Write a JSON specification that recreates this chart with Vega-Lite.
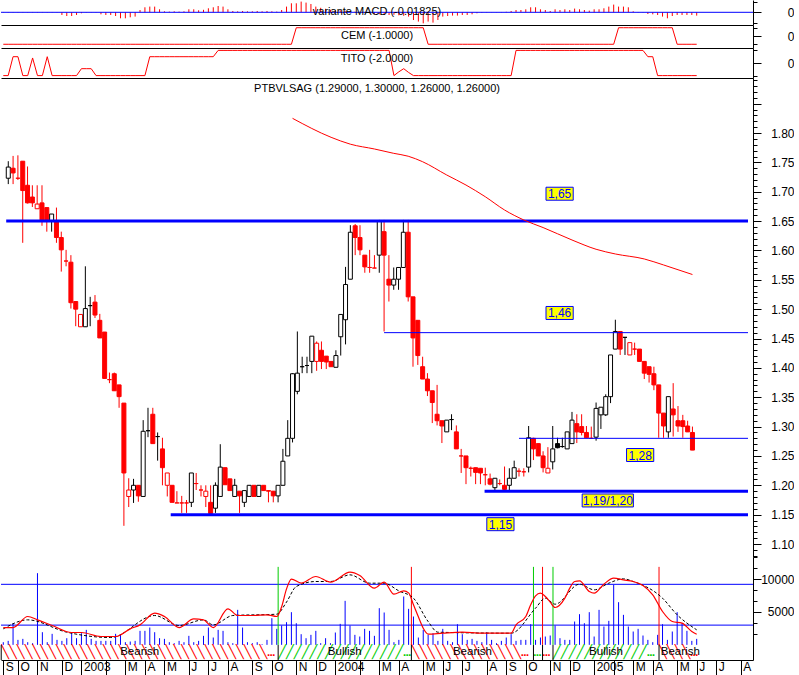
{
"$schema": "https://vega.github.io/schema/vega-lite/v6.json",
"padding": 0,
"background": "#FFFFFF",
"spacing": 0,
"bounds": "flush",
"config": {
 "view": {"stroke": null},
 "font": "Liberation Sans",
 "axis": {"labelFont": "Liberation Sans", "labelFontSize": 12, "labelColor": "#000000", "domainColor": "#000000", "tickColor": "#000000", "domainWidth": 1, "tickWidth": 1, "grid": false},
 "title": {"font": "Liberation Sans", "fontSize": 11, "fontWeight": "normal", "color": "#000000", "anchor": "middle", "baseline": "middle"}
},
"datasets": {
 "wk": [
{"d":"2002-09-13","o":1.723,"h":1.752,"l":1.713,"c":1.742,"m":0.0017,"cem":-1,"tito":-2,"v":405},
{"d":"2002-09-20","o":1.740,"h":1.761,"l":1.713,"c":1.732,"m":0.0017,"cem":-1,"tito":-2,"v":608},
{"d":"2002-09-27","o":1.723,"h":1.762,"l":1.720,"c":1.723,"m":-0.0017,"cem":-1,"tito":1,"v":3293},
{"d":"2002-10-04","o":1.752,"h":1.752,"l":1.613,"c":1.702,"m":0.0017,"cem":-1,"tito":1,"v":760},
{"d":"2002-10-11","o":1.711,"h":1.743,"l":1.680,"c":1.681,"m":0.0017,"cem":-1,"tito":-2,"v":912},
{"d":"2002-10-18","o":1.691,"h":1.711,"l":1.674,"c":1.681,"m":-0.0017,"cem":-1,"tito":-2,"v":405},
{"d":"2002-10-25","o":1.671,"h":1.711,"l":1.671,"c":1.679,"m":0.0017,"cem":-1,"tito":0.8,"v":253},
{"d":"2002-11-01","o":1.681,"h":1.711,"l":1.642,"c":1.652,"m":0.0017,"cem":-1,"tito":-2,"v":10893},
{"d":"2002-11-08","o":1.673,"h":1.673,"l":1.632,"c":1.650,"m":0.0017,"cem":-1,"tito":-2,"v":1925},
{"d":"2002-11-15","o":1.651,"h":1.662,"l":1.632,"c":1.662,"m":-0.0017,"cem":-1,"tito":1,"v":405},
{"d":"2002-11-22","o":1.649,"h":1.673,"l":1.613,"c":1.622,"m":0.0017,"cem":-1,"tito":-2,"v":1672},
{"d":"2002-11-29","o":1.622,"h":1.632,"l":1.564,"c":1.601,"m":-0.0017,"cem":-1,"tito":-2,"v":760},
{"d":"2002-12-06","o":1.582,"h":1.601,"l":1.573,"c":1.582,"m":-0.0149,"cem":-1,"tito":-2,"v":608},
{"d":"2002-12-13","o":1.580,"h":1.592,"l":1.501,"c":1.511,"m":-0.0205,"cem":-1,"tito":-2,"v":1013},
{"d":"2002-12-20","o":1.513,"h":1.513,"l":1.471,"c":1.500,"m":-0.0205,"cem":-1,"tito":-2,"v":1773},
{"d":"2002-12-27","o":1.470,"h":1.491,"l":1.470,"c":1.491,"m":-0.0149,"cem":-1,"tito":-2,"v":1013},
{"d":"2003-01-03","o":1.470,"h":1.573,"l":1.470,"c":1.501,"m":-0.0055,"cem":-1,"tito":-0.9,"v":1773},
{"d":"2003-01-10","o":1.506,"h":1.521,"l":1.471,"c":1.506,"m":-0.0017,"cem":-1,"tito":-0.9,"v":2280},
{"d":"2003-01-17","o":1.512,"h":1.524,"l":1.485,"c":1.490,"m":-0.0017,"cem":-1,"tito":-0.9,"v":912},
{"d":"2003-01-24","o":1.481,"h":1.492,"l":1.451,"c":1.451,"m":-0.0017,"cem":-1,"tito":-2,"v":608},
{"d":"2003-01-31","o":1.461,"h":1.461,"l":1.382,"c":1.382,"m":-0.0111,"cem":-1,"tito":-2,"v":608},
{"d":"2003-02-07","o":1.380,"h":1.392,"l":1.374,"c":1.380,"m":-0.0149,"cem":-1,"tito":-2,"v":608},
{"d":"2003-02-14","o":1.390,"h":1.392,"l":1.361,"c":1.361,"m":-0.0149,"cem":-1,"tito":-2,"v":608},
{"d":"2003-02-21","o":1.371,"h":1.371,"l":1.332,"c":1.351,"m":-0.0205,"cem":-1,"tito":-2,"v":1672},
{"d":"2003-02-28","o":1.340,"h":1.340,"l":1.131,"c":1.221,"m":-0.0332,"cem":-1,"tito":-2,"v":1520},
{"d":"2003-03-07","o":1.181,"h":1.212,"l":1.163,"c":1.192,"m":-0.0332,"cem":-1,"tito":-2,"v":405},
{"d":"2003-03-14","o":1.192,"h":1.211,"l":1.170,"c":1.200,"m":-0.0277,"cem":-1,"tito":-2,"v":507},
{"d":"2003-03-21","o":1.200,"h":1.200,"l":1.172,"c":1.182,"m":-0.0238,"cem":-1,"tito":-2,"v":608},
{"d":"2003-03-28","o":1.181,"h":1.311,"l":1.181,"c":1.292,"m":0.0127,"cem":-1,"tito":-2,"v":2128},
{"d":"2003-04-04","o":1.293,"h":1.332,"l":1.282,"c":1.293,"m":0.0277,"cem":-1,"tito":-2,"v":2128},
{"d":"2003-04-11","o":1.321,"h":1.332,"l":1.271,"c":1.271,"m":0.0315,"cem":-1,"tito":1,"v":2634},
{"d":"2003-04-18","o":1.283,"h":1.290,"l":1.242,"c":1.283,"m":0.0315,"cem":-1,"tito":1,"v":1925},
{"d":"2003-04-25","o":1.262,"h":1.281,"l":1.200,"c":1.230,"m":0.0166,"cem":-1,"tito":1,"v":1013},
{"d":"2003-05-02","o":1.200,"h":1.221,"l":1.181,"c":1.221,"m":0.0055,"cem":-1,"tito":1,"v":912},
{"d":"2003-05-09","o":1.200,"h":1.200,"l":1.171,"c":1.171,"m":0.0039,"cem":-1,"tito":1,"v":405},
{"d":"2003-05-16","o":1.170,"h":1.190,"l":1.170,"c":1.170,"m":0.0055,"cem":-1,"tito":1,"v":253},
{"d":"2003-05-23","o":1.170,"h":1.182,"l":1.153,"c":1.170,"m":0.0039,"cem":-1,"tito":1,"v":608},
{"d":"2003-05-30","o":1.170,"h":1.175,"l":1.153,"c":1.170,"m":0.0055,"cem":-1,"tito":1,"v":405},
{"d":"2003-06-06","o":1.171,"h":1.221,"l":1.163,"c":1.221,"m":0.0166,"cem":-1,"tito":1,"v":1368},
{"d":"2003-06-13","o":1.203,"h":1.221,"l":1.192,"c":1.203,"m":0.0166,"cem":-1,"tito":1,"v":405},
{"d":"2003-06-20","o":1.192,"h":1.200,"l":1.181,"c":1.192,"m":0.0111,"cem":-1,"tito":1,"v":608},
{"d":"2003-06-27","o":1.181,"h":1.200,"l":1.163,"c":1.190,"m":0.0138,"cem":-1,"tito":1,"v":1368},
{"d":"2003-07-04","o":1.171,"h":1.200,"l":1.152,"c":1.152,"m":0.0221,"cem":-1,"tito":1,"v":2634},
{"d":"2003-07-11","o":1.161,"h":1.205,"l":1.153,"c":1.200,"m":0.0277,"cem":-1,"tito":1,"v":1115},
{"d":"2003-07-18","o":1.181,"h":1.270,"l":1.181,"c":1.231,"m":0.0348,"cem":-1,"tito":2,"v":2280},
{"d":"2003-07-25","o":1.230,"h":1.230,"l":1.201,"c":1.201,"m":0.0315,"cem":-1,"tito":2,"v":2128},
{"d":"2003-08-01","o":1.211,"h":1.211,"l":1.191,"c":1.191,"m":0.0166,"cem":-1,"tito":2,"v":405},
{"d":"2003-08-08","o":1.181,"h":1.211,"l":1.181,"c":1.200,"m":0.0072,"cem":-1,"tito":2,"v":253},
{"d":"2003-08-15","o":1.190,"h":1.190,"l":1.153,"c":1.182,"m":0.0055,"cem":-1,"tito":2,"v":5320},
{"d":"2003-08-22","o":1.171,"h":1.191,"l":1.163,"c":1.191,"m":0.0072,"cem":-1,"tito":2,"v":2634},
{"d":"2003-08-29","o":1.181,"h":1.200,"l":1.181,"c":1.200,"m":0.0055,"cem":-1,"tito":2,"v":405},
{"d":"2003-09-05","o":1.200,"h":1.200,"l":1.181,"c":1.181,"m":0.0055,"cem":-1,"tito":2,"v":253},
{"d":"2003-09-12","o":1.181,"h":1.200,"l":1.181,"c":1.200,"m":0.0072,"cem":-1,"tito":2,"v":405},
{"d":"2003-09-19","o":1.200,"h":1.200,"l":1.191,"c":1.191,"m":0.0055,"cem":-1,"tito":2,"v":101},
{"d":"2003-09-26","o":1.191,"h":1.191,"l":1.171,"c":1.190,"m":0.0072,"cem":-1,"tito":2,"v":760},
{"d":"2003-10-03","o":1.190,"h":1.190,"l":1.171,"c":1.182,"m":0.0055,"cem":-1,"tito":2,"v":4053},
{"d":"2003-10-10","o":1.182,"h":1.200,"l":1.171,"c":1.200,"m":0.0039,"cem":-1,"tito":2,"v":2432},
{"d":"2003-10-17","o":1.200,"h":1.262,"l":1.200,"c":1.241,"m":0.0127,"cem":-1,"tito":2,"v":2939},
{"d":"2003-10-24","o":1.250,"h":1.311,"l":1.250,"c":1.280,"m":0.0315,"cem":-1,"tito":2,"v":3445},
{"d":"2003-10-31","o":1.280,"h":1.391,"l":1.273,"c":1.390,"m":0.0498,"cem":-1,"tito":2,"v":4965},
{"d":"2003-11-07","o":1.360,"h":1.462,"l":1.355,"c":1.391,"m":0.0498,"cem":1,"tito":2,"v":3293},
{"d":"2003-11-14","o":1.402,"h":1.419,"l":1.391,"c":1.402,"m":0.0592,"cem":1,"tito":2,"v":1621},
{"d":"2003-11-21","o":1.404,"h":1.419,"l":1.391,"c":1.404,"m":0.0536,"cem":1,"tito":2,"v":1013},
{"d":"2003-11-28","o":1.411,"h":1.454,"l":1.391,"c":1.454,"m":0.0459,"cem":1,"tito":2,"v":1520},
{"d":"2003-12-05","o":1.411,"h":1.445,"l":1.395,"c":1.442,"m":0.0315,"cem":1,"tito":2,"v":2128},
{"d":"2003-12-12","o":1.430,"h":1.445,"l":1.398,"c":1.411,"m":0.0249,"cem":1,"tito":2,"v":253},
{"d":"2003-12-19","o":1.420,"h":1.420,"l":1.398,"c":1.410,"m":0.0194,"cem":1,"tito":2,"v":1013},
{"d":"2003-12-26","o":1.411,"h":1.411,"l":1.402,"c":1.402,"m":0.0138,"cem":1,"tito":2,"v":253},
{"d":"2004-01-02","o":1.401,"h":1.430,"l":1.401,"c":1.421,"m":0.0111,"cem":1,"tito":2,"v":1875},
{"d":"2004-01-09","o":1.453,"h":1.491,"l":1.421,"c":1.491,"m":0.0111,"cem":1,"tito":2,"v":3192},
{"d":"2004-01-16","o":1.482,"h":1.572,"l":1.440,"c":1.542,"m":0.0083,"cem":1,"tito":2,"v":6688},
{"d":"2004-01-23","o":1.551,"h":1.643,"l":1.551,"c":1.631,"m":0.0055,"cem":1,"tito":2,"v":2939},
{"d":"2004-01-30","o":1.642,"h":1.645,"l":1.592,"c":1.622,"m":0.0028,"cem":1,"tito":2,"v":1520},
{"d":"2004-02-06","o":1.622,"h":1.643,"l":1.592,"c":1.601,"m":0.0017,"cem":1,"tito":2,"v":1267},
{"d":"2004-02-13","o":1.592,"h":1.592,"l":1.562,"c":1.572,"m":-0.0028,"cem":1,"tito":2,"v":2432},
{"d":"2004-02-20","o":1.571,"h":1.601,"l":1.562,"c":1.571,"m":-0.0055,"cem":1,"tito":2,"v":2128},
{"d":"2004-02-27","o":1.570,"h":1.592,"l":1.570,"c":1.570,"m":-0.0083,"cem":1,"tito":2,"v":1368},
{"d":"2004-03-05","o":1.592,"h":1.652,"l":1.562,"c":1.650,"m":-0.0111,"cem":1,"tito":2,"v":5573},
{"d":"2004-03-12","o":1.632,"h":1.652,"l":1.462,"c":1.592,"m":-0.0127,"cem":1,"tito":2,"v":4915},
{"d":"2004-03-19","o":1.551,"h":1.592,"l":1.513,"c":1.541,"m":-0.0149,"cem":1,"tito":2,"v":2280},
{"d":"2004-03-26","o":1.541,"h":1.571,"l":1.533,"c":1.551,"m":-0.0138,"cem":1,"tito":-2,"v":405},
{"d":"2004-04-02","o":1.551,"h":1.571,"l":1.533,"c":1.571,"m":-0.0166,"cem":1,"tito":-1.4,"v":760},
{"d":"2004-04-09","o":1.571,"h":1.652,"l":1.571,"c":1.631,"m":-0.0194,"cem":1,"tito":-0.9,"v":7347},
{"d":"2004-04-16","o":1.631,"h":1.652,"l":1.513,"c":1.521,"m":-0.0238,"cem":1,"tito":-1.5,"v":5472},
{"d":"2004-04-23","o":1.521,"h":1.521,"l":1.402,"c":1.451,"m":-0.0426,"cem":1,"tito":-2,"v":4307},
{"d":"2004-04-30","o":1.481,"h":1.481,"l":1.405,"c":1.421,"m":-0.0514,"cem":1,"tito":-2,"v":1115},
{"d":"2004-05-07","o":1.402,"h":1.419,"l":1.381,"c":1.381,"m":-0.0608,"cem":1,"tito":-2,"v":2280},
{"d":"2004-05-14","o":1.381,"h":1.391,"l":1.352,"c":1.361,"m":-0.0514,"cem":-1,"tito":-2,"v":1520},
{"d":"2004-05-21","o":1.361,"h":1.361,"l":1.306,"c":1.341,"m":-0.0570,"cem":-1,"tito":-2,"v":1773},
{"d":"2004-05-28","o":1.321,"h":1.371,"l":1.302,"c":1.310,"m":-0.0426,"cem":-1,"tito":-2,"v":608},
{"d":"2004-06-04","o":1.310,"h":1.310,"l":1.272,"c":1.301,"m":-0.0238,"cem":-1,"tito":-2,"v":2432},
{"d":"2004-06-11","o":1.291,"h":1.311,"l":1.291,"c":1.311,"m":-0.0205,"cem":-1,"tito":-2,"v":608},
{"d":"2004-06-18","o":1.312,"h":1.321,"l":1.294,"c":1.312,"m":-0.0182,"cem":-1,"tito":-2,"v":405},
{"d":"2004-06-25","o":1.291,"h":1.302,"l":1.262,"c":1.262,"m":-0.0182,"cem":-1,"tito":-2,"v":3141},
{"d":"2004-07-02","o":1.250,"h":1.262,"l":1.221,"c":1.250,"m":-0.0149,"cem":-1,"tito":-2,"v":1621},
{"d":"2004-07-09","o":1.250,"h":1.250,"l":1.202,"c":1.230,"m":-0.0149,"cem":-1,"tito":-2,"v":760},
{"d":"2004-07-16","o":1.229,"h":1.232,"l":1.215,"c":1.229,"m":-0.0111,"cem":-1,"tito":-2,"v":912},
{"d":"2004-07-23","o":1.230,"h":1.230,"l":1.202,"c":1.222,"m":-0.0055,"cem":-1,"tito":-2,"v":608},
{"d":"2004-07-30","o":1.229,"h":1.229,"l":1.202,"c":1.221,"m":-0.0028,"cem":-1,"tito":-2,"v":405},
{"d":"2004-08-06","o":1.218,"h":1.230,"l":1.200,"c":1.218,"m":0.0017,"cem":-1,"tito":-2,"v":1925},
{"d":"2004-08-13","o":1.211,"h":1.220,"l":1.200,"c":1.202,"m":0.0011,"cem":-1,"tito":-2,"v":760},
{"d":"2004-08-20","o":1.196,"h":1.212,"l":1.192,"c":1.212,"m":-0.0011,"cem":-1,"tito":-2,"v":253},
{"d":"2004-08-27","o":1.203,"h":1.210,"l":1.200,"c":1.203,"m":0.0017,"cem":-1,"tito":-2,"v":608},
{"d":"2004-09-03","o":1.200,"h":1.232,"l":1.190,"c":1.193,"m":0.0028,"cem":-1,"tito":-2,"v":1115},
{"d":"2004-09-10","o":1.200,"h":1.229,"l":1.190,"c":1.212,"m":0.0072,"cem":-1,"tito":-2,"v":1621},
{"d":"2004-09-17","o":1.212,"h":1.242,"l":1.212,"c":1.230,"m":0.0127,"cem":-1,"tito":2,"v":608},
{"d":"2004-09-24","o":1.224,"h":1.229,"l":1.215,"c":1.224,"m":0.0127,"cem":-1,"tito":2,"v":760},
{"d":"2004-10-01","o":1.223,"h":1.229,"l":1.215,"c":1.223,"m":0.0166,"cem":-1,"tito":2,"v":760},
{"d":"2004-10-08","o":1.231,"h":1.301,"l":1.222,"c":1.281,"m":0.0277,"cem":-1,"tito":2,"v":3141},
{"d":"2004-10-15","o":1.280,"h":1.281,"l":1.243,"c":1.262,"m":0.0277,"cem":-1,"tito":2,"v":760},
{"d":"2004-10-22","o":1.271,"h":1.271,"l":1.250,"c":1.250,"m":0.0166,"cem":-1,"tito":2,"v":1115},
{"d":"2004-10-29","o":1.250,"h":1.258,"l":1.222,"c":1.230,"m":0.0127,"cem":-1,"tito":2,"v":1267},
{"d":"2004-11-05","o":1.221,"h":1.265,"l":1.221,"c":1.229,"m":0.0072,"cem":-1,"tito":2,"v":1419},
{"d":"2004-11-12","o":1.240,"h":1.301,"l":1.227,"c":1.262,"m":0.0166,"cem":-1,"tito":2,"v":2939},
{"d":"2004-11-19","o":1.271,"h":1.281,"l":1.263,"c":1.264,"m":0.0127,"cem":-1,"tito":2,"v":1013},
{"d":"2004-11-26","o":1.266,"h":1.281,"l":1.264,"c":1.266,"m":0.0166,"cem":-1,"tito":2,"v":760},
{"d":"2004-12-03","o":1.262,"h":1.291,"l":1.262,"c":1.291,"m":0.0127,"cem":-1,"tito":2,"v":760},
{"d":"2004-12-10","o":1.271,"h":1.325,"l":1.271,"c":1.311,"m":0.0205,"cem":-1,"tito":2,"v":3547},
{"d":"2004-12-17","o":1.305,"h":1.321,"l":1.272,"c":1.291,"m":0.0166,"cem":-1,"tito":2,"v":4661},
{"d":"2004-12-24","o":1.300,"h":1.321,"l":1.285,"c":1.290,"m":0.0127,"cem":-1,"tito":2,"v":3293},
{"d":"2004-12-31","o":1.290,"h":1.301,"l":1.281,"c":1.281,"m":0.0094,"cem":-1,"tito":2,"v":4965},
{"d":"2005-01-07","o":1.280,"h":1.300,"l":1.280,"c":1.280,"m":0.0166,"cem":-1,"tito":2,"v":1267},
{"d":"2005-01-14","o":1.282,"h":1.341,"l":1.276,"c":1.331,"m":0.0166,"cem":-1,"tito":2,"v":5320},
{"d":"2005-01-21","o":1.320,"h":1.333,"l":1.296,"c":1.333,"m":0.0221,"cem":-1,"tito":2,"v":2787},
{"d":"2005-01-28","o":1.320,"h":1.355,"l":1.318,"c":1.351,"m":0.0315,"cem":-1,"tito":2,"v":3648},
{"d":"2005-02-04","o":1.351,"h":1.422,"l":1.340,"c":1.422,"m":0.0426,"cem":-1,"tito":2,"v":9120},
{"d":"2005-02-11","o":1.432,"h":1.482,"l":1.432,"c":1.462,"m":0.0315,"cem":1,"tito":2,"v":6485},
{"d":"2005-02-18","o":1.462,"h":1.462,"l":1.422,"c":1.432,"m":0.0315,"cem":1,"tito":2,"v":4560},
{"d":"2005-02-25","o":1.452,"h":1.452,"l":1.422,"c":1.452,"m":0.0277,"cem":1,"tito":2,"v":2787},
{"d":"2005-03-04","o":1.422,"h":1.443,"l":1.422,"c":1.443,"m":0.0055,"cem":1,"tito":2,"v":2027},
{"d":"2005-03-11","o":1.432,"h":1.443,"l":1.422,"c":1.432,"m":0.0017,"cem":1,"tito":2,"v":2432},
{"d":"2005-03-18","o":1.432,"h":1.432,"l":1.411,"c":1.411,"m":-0.0017,"cem":1,"tito":2,"v":1419},
{"d":"2005-03-25","o":1.411,"h":1.411,"l":1.381,"c":1.391,"m":-0.0094,"cem":1,"tito":1,"v":760},
{"d":"2005-04-01","o":1.402,"h":1.402,"l":1.375,"c":1.389,"m":-0.0111,"cem":1,"tito":1,"v":405},
{"d":"2005-04-08","o":1.390,"h":1.402,"l":1.362,"c":1.371,"m":-0.0149,"cem":1,"tito":-2,"v":1520},
{"d":"2005-04-15","o":1.371,"h":1.371,"l":1.281,"c":1.323,"m":-0.0238,"cem":1,"tito":-2,"v":3141},
{"d":"2005-04-22","o":1.323,"h":1.323,"l":1.281,"c":1.301,"m":-0.0332,"cem":1,"tito":-2,"v":760},
{"d":"2005-04-29","o":1.291,"h":1.351,"l":1.281,"c":1.351,"m":-0.0205,"cem":1,"tito":-2,"v":2027},
{"d":"2005-05-06","o":1.330,"h":1.374,"l":1.283,"c":1.320,"m":-0.0149,"cem":-1,"tito":-2,"v":4965},
{"d":"2005-05-13","o":1.310,"h":1.335,"l":1.291,"c":1.301,"m":-0.0149,"cem":-1,"tito":-2,"v":3293},
{"d":"2005-05-20","o":1.310,"h":1.320,"l":1.281,"c":1.300,"m":-0.0149,"cem":-1,"tito":-2,"v":2128},
{"d":"2005-05-27","o":1.301,"h":1.310,"l":1.291,"c":1.291,"m":-0.0149,"cem":-1,"tito":-2,"v":608},
{"d":"2005-06-03","o":1.290,"h":1.300,"l":1.260,"c":1.260,"m":-0.01825,"cem":-1,"tito":-2,"v":912}
 ],
 "ma": [
{"d":"2003-10-31","p":1.825},{"d":"2003-12-26","p":1.7927},{"d":"2004-01-23","p":1.781},{"d":"2004-02-27","p":1.7728},
{"d":"2004-03-26","p":1.7654},{"d":"2004-04-16","p":1.7605},{"d":"2004-05-07","p":1.7511},{"d":"2004-06-11","p":1.7285},
{"d":"2004-07-09","p":1.7114},{"d":"2004-08-06","p":1.6915},{"d":"2004-09-03","p":1.6689},{"d":"2004-10-01","p":1.6519},
{"d":"2004-10-29","p":1.639},{"d":"2004-12-10","p":1.6178},{"d":"2005-01-14","p":1.602},{"d":"2005-02-11","p":1.594},
{"d":"2005-03-25","p":1.5855},{"d":"2005-04-22","p":1.5753},{"d":"2005-06-03","p":1.559}
 ],
 "osc": [
{"d":"2002-09-13","s":"red","v":2634},{"d":"2002-09-27","s":"red","v":2634},{"d":"2002-10-18","s":"red","v":4307},{"d":"2002-11-01","s":"red","v":3800},
{"d":"2002-11-22","s":"red","v":2939},{"d":"2002-12-20","s":"red","v":1875},{"d":"2003-01-03","s":"red","v":1875},{"d":"2003-01-31","s":"red","v":1267},
{"d":"2003-02-21","s":"red","v":1267},{"d":"2003-03-14","s":"red","v":2432},{"d":"2003-03-28","s":"red","v":3040},{"d":"2003-04-18","s":"red","v":4813},
{"d":"2003-05-02","s":"red","v":4307},{"d":"2003-05-23","s":"red","v":2634},{"d":"2003-06-13","s":"red","v":3952},{"d":"2003-06-27","s":"red","v":3800},
{"d":"2003-07-11","s":"red","v":2634},{"d":"2003-08-01","s":"red","v":5472},{"d":"2003-08-15","s":"red","v":4459},{"d":"2003-09-05","s":"red","v":4459},
{"d":"2003-09-26","s":"red","v":4560},{"d":"2003-10-10","s":"red","v":4307},{"d":"2003-10-17","s":"red","v":5800},{"d":"2003-10-24","s":"red","v":8500},
{"d":"2003-10-31","s":"red","v":9999},{"d":"2003-11-14","s":"red","v":9373},{"d":"2003-12-05","s":"red","v":10387},{"d":"2003-12-26","s":"red","v":9525},
{"d":"2004-01-23","s":"red","v":11045},{"d":"2004-02-06","s":"red","v":10533},{"d":"2004-02-27","s":"red","v":8613},{"d":"2004-03-12","s":"red","v":9525},
{"d":"2004-03-26","s":"red","v":7701},{"d":"2004-04-09","s":"red","v":8200},{"d":"2004-04-16","s":"red","v":7900},{"d":"2004-04-23","s":"red","v":6080},
{"d":"2004-04-30","s":"red","v":4256},{"d":"2004-05-07","s":"red","v":2533},{"d":"2004-05-14","s":"red","v":1621},{"d":"2004-06-04","s":"red","v":1773},
{"d":"2004-07-02","s":"red","v":1925},{"d":"2004-07-30","s":"red","v":1773},{"d":"2004-09-10","s":"red","v":1773},{"d":"2004-09-17","s":"red","v":3040},
{"d":"2004-10-01","s":"red","v":4307},{"d":"2004-10-08","s":"red","v":6080},{"d":"2004-10-15","s":"red","v":7448},{"d":"2004-10-22","s":"red","v":7853},
{"d":"2004-10-29","s":"red","v":7347},{"d":"2004-11-05","s":"red","v":6485},{"d":"2004-11-12","s":"red","v":5675},{"d":"2004-11-26","s":"red","v":7093},
{"d":"2004-12-03","s":"red","v":8613},{"d":"2004-12-10","s":"red","v":9627},{"d":"2004-12-17","s":"red","v":9728},{"d":"2004-12-31","s":"red","v":8107},
{"d":"2005-01-07","s":"red","v":7853},{"d":"2005-01-21","s":"red","v":9221},{"d":"2005-02-04","s":"red","v":10133},{"d":"2005-02-18","s":"red","v":9880},
{"d":"2005-03-04","s":"red","v":9627},{"d":"2005-03-18","s":"red","v":9019},{"d":"2005-04-01","s":"red","v":7600},{"d":"2005-04-15","s":"red","v":5067},
{"d":"2005-04-29","s":"red","v":3547},{"d":"2005-05-13","s":"red","v":3293},{"d":"2005-05-27","s":"red","v":2027},{"d":"2005-06-03","s":"red","v":1621},
{"d":"2002-09-13","s":"black","v":2432},{"d":"2002-10-18","s":"black","v":3800},{"d":"2002-12-13","s":"black","v":1925},{"d":"2003-02-14","s":"black","v":1115},
{"d":"2003-04-18","s":"black","v":4459},{"d":"2003-05-23","s":"black","v":2939},{"d":"2003-06-27","s":"black","v":3800},{"d":"2003-07-11","s":"black","v":3040},
{"d":"2003-08-08","s":"black","v":4459},{"d":"2003-10-10","s":"black","v":4661},{"d":"2003-10-24","s":"black","v":6500},{"d":"2003-11-07","s":"black","v":8867},
{"d":"2003-12-05","s":"black","v":9627},{"d":"2003-12-26","s":"black","v":9627},{"d":"2004-01-23","s":"black","v":10640},{"d":"2004-02-20","s":"black","v":9373},
{"d":"2004-03-12","s":"black","v":9373},{"d":"2004-04-02","s":"black","v":8200},{"d":"2004-04-23","s":"black","v":7093},{"d":"2004-05-14","s":"black","v":3547},
{"d":"2004-05-28","s":"black","v":1925},{"d":"2004-09-10","s":"black","v":1773},{"d":"2004-10-15","s":"black","v":5573},{"d":"2004-10-29","s":"black","v":7093},
{"d":"2004-11-12","s":"black","v":6181},{"d":"2004-12-17","s":"black","v":9221},{"d":"2005-01-07","s":"black","v":8360},{"d":"2005-01-28","s":"black","v":9373},
{"d":"2005-02-18","s":"black","v":10032},{"d":"2005-03-04","s":"black","v":9627},{"d":"2005-04-15","s":"black","v":7093},{"d":"2005-05-06","s":"black","v":4560},
{"d":"2005-06-03","s":"black","v":2280}
 ],
 "levels": [
{"d":"2002-09-10","p":1.65,"kind":"major"},
{"d":"2004-03-12","p":1.46,"kind":"minor"},
{"d":"2004-09-24","p":1.28,"kind":"minor"},
{"d":"2004-08-05","p":1.19,"kind":"major"},
{"d":"2003-05-07","p":1.15,"kind":"major"}
 ],
 "tags": [
{"d":"2004-11-22","p":1.6966,"t":"1,65"},
{"d":"2004-11-22","p":1.4935,"t":"1,46"},
{"d":"2005-03-19","p":1.2516,"t":"1,28"},
{"d":"2005-01-31","p":1.1742,"t":"1,19/1,20"},
{"d":"2004-08-28","p":1.1338,"t":"1,15"}
 ],
 "regimes": [
{"d":"2002-09-10","e":"2003-10-12","r":"Bearish"},
{"d":"2003-10-12","e":"2004-04-20","r":"Bullish"},
{"d":"2004-04-20","e":"2004-10-12","r":"Bearish"},
{"d":"2004-10-12","e":"2004-10-25","r":"Bullish"},
{"d":"2004-10-25","e":"2004-11-09","r":"Bearish"},
{"d":"2004-11-09","e":"2005-04-10","r":"Bullish"},
{"d":"2005-04-10","e":"2005-06-10","r":"Bearish"}
 ]
},
"vconcat": [
 {
  "width": 752, "height": 25,
  "title": {"text": "variante MACD (-0.01825)", "offset": -17},
  "resolve": {"axis": {"y": "independent"}},
  "layer": [
   {"data": {"name": "wk"},
    "mark": {"type": "rule", "color": "#FF0000", "strokeWidth": 1},
    "encoding": {
     "x": {"field": "d", "type": "temporal", "scale": {"type": "utc", "domain": [{"year": 2002, "month": 9, "date": 9, "hours": 17, "utc": true}, {"year": 2005, "month": 8, "date": 22, "hours": 17, "utc": true}], "nice": false}, "axis": null},
     "y": {"field": "m", "type": "quantitative", "scale": {"domain": [-0.0702, 0.068], "nice": false, "zero": false},
      "axis": {"orient": "right", "values": [-0.057, 0, 0.057], "labelExpr": "datum.value == 0 ? '0' : ''", "labelFontSize": {"condition": {"test": "datum.value != 0", "value": 0}, "value": 12}, "tickSize": 8, "tickDash": {"condition": {"test": "datum.value != 0", "value": [4, 20]}, "value": []}, "labelAlign": "right", "labelPadding": 33, "labelOverlap": false, "labelBound": false, "labelFlush": false, "title": null}},
     "y2": {"datum": 0}
    }},
   {"data": {"values": [{}]},
    "mark": {"type": "rule", "color": "#0000FF", "strokeWidth": 1},
    "encoding": {"y": {"datum": 0, "axis": null}}}
  ]
 },
 {
  "width": 752, "height": 23,
  "title": {"text": "CEM (-1.0000)", "offset": -16},
  "data": {"name": "wk"},
  "mark": {"type": "line", "color": "#FF0000", "strokeWidth": 1},
  "encoding": {
   "x": {"field": "d", "type": "temporal", "scale": {"type": "utc", "domain": [{"year": 2002, "month": 9, "date": 9, "hours": 17, "utc": true}, {"year": 2005, "month": 8, "date": 22, "hours": 17, "utc": true}], "nice": false},
    "axis": {"orient": "top", "labels": false, "ticks": false, "domain": true, "title": null}},
   "y": {"field": "cem", "type": "quantitative", "scale": {"domain": [-1.45, 1.33], "nice": false, "zero": false},
    "axis": {"orient": "right", "values": [-1, 0, 1], "labelExpr": "datum.value == 0 ? '0' : ''", "labelFontSize": {"condition": {"test": "datum.value != 0", "value": 0}, "value": 12}, "tickSize": 8, "tickDash": {"condition": {"test": "datum.value != 0", "value": [4, 20]}, "value": []}, "labelAlign": "right", "labelPadding": 33, "labelOverlap": false, "labelBound": false, "labelFlush": false, "title": null}}
  }
 },
 {
  "width": 752, "height": 30,
  "title": {"text": "TITO (-2.0000)", "offset": -16},
  "data": {"name": "wk"},
  "mark": {"type": "line", "color": "#FF0000", "strokeWidth": 1},
  "encoding": {
   "x": {"field": "d", "type": "temporal", "scale": {"type": "utc", "domain": [{"year": 2002, "month": 9, "date": 9, "hours": 17, "utc": true}, {"year": 2005, "month": 8, "date": 22, "hours": 17, "utc": true}], "nice": false},
    "axis": {"orient": "top", "labels": false, "ticks": false, "domain": true, "title": null}},
   "y": {"field": "tito", "type": "quantitative", "scale": {"domain": [-2.38, 2.38], "nice": false, "zero": false},
    "axis": {"orient": "right", "values": [-2, 0, 2], "labelExpr": "datum.value == 0 ? '0' : ''", "labelFontSize": {"condition": {"test": "datum.value != 0", "value": 0}, "value": 12}, "tickSize": 8, "tickDash": {"condition": {"test": "datum.value != 0", "value": [4, 20]}, "value": []}, "labelAlign": "right", "labelPadding": 33, "labelOverlap": false, "labelBound": false, "labelFlush": false, "title": null}}
  }
 },
 {
  "width": 752, "height": 479,
  "title": {"text": "PTBVLSAG (1.29000, 1.30000, 1.26000, 1.26000)", "offset": -15.5},
  "resolve": {"axis": {"y": "independent"}},
  "encoding": {
   "x": {"field": "d", "type": "temporal", "scale": {"type": "utc", "domain": [{"year": 2002, "month": 9, "date": 9, "hours": 17, "utc": true}, {"year": 2005, "month": 8, "date": 22, "hours": 17, "utc": true}], "nice": false},
    "axis": {"orient": "top", "labels": false, "ticks": false, "domain": true, "title": null}}
  },
  "layer": [
   {"data": {"name": "wk"},
    "transform": [
     {"window": [{"op": "lag", "field": "c", "as": "pc"}], "sort": [{"field": "d", "order": "ascending"}]},
     {"calculate": "datum.c > datum.pc ? 'up' : 'dn'", "as": "col"},
     {"calculate": "datum.c > datum.o ? 'hollow' : datum.col", "as": "body"}
    ],
    "resolve": {"axis": {"y": "independent"}},
    "layer": [
     {"mark": {"type": "rule", "strokeWidth": 1},
      "encoding": {
       "y": {"field": "l", "type": "quantitative", "scale": {"domain": [1.0779, 1.8937], "nice": false, "zero": false},
        "axis": {"orient": "right", "values": [1.08,1.09,1.1,1.11,1.12,1.13,1.14,1.15,1.16,1.17,1.18,1.19,1.2,1.21,1.22,1.23,1.24,1.25,1.26,1.27,1.28,1.29,1.3,1.31,1.32,1.33,1.34,1.35,1.36,1.37,1.38,1.39,1.4,1.41,1.42,1.43,1.44,1.45,1.46,1.47,1.48,1.49,1.5,1.51,1.52,1.53,1.54,1.55,1.56,1.57,1.58,1.59,1.6,1.61,1.62,1.63,1.64,1.65,1.66,1.67,1.68,1.69,1.7,1.71,1.72,1.73,1.74,1.75,1.76,1.77,1.78,1.79,1.8,1.81,1.82,1.83,1.84,1.85,1.86,1.87,1.88,1.89],
         "labelExpr": "(round(datum.value*100) % 5 == 0 && datum.value > 1.095 && datum.value < 1.805) ? format(datum.value, '.2f') : ''",
         "labelFontSize": {"condition": {"test": "round(datum.value*100) % 5 != 0 || datum.value < 1.095 || datum.value > 1.805", "value": 0}, "value": 12},
         "tickSize": 8, "tickDash": {"condition": {"test": "round(datum.value*100) % 5 != 0", "value": [4, 20]}, "value": []},
         "labelAlign": "right", "labelPadding": 33, "labelOverlap": false, "labelBound": false, "labelFlush": false, "title": null}},
       "y2": {"field": "h"},
       "stroke": {"field": "col", "type": "nominal", "scale": {"domain": ["up", "dn"], "range": ["#000000", "#FF0000"]}, "legend": null}
      }},
     {"mark": {"type": "bar", "size": 4, "strokeWidth": 1},
      "encoding": {
       "y": {"field": "o", "type": "quantitative", "axis": null},
       "y2": {"field": "c"},
       "stroke": {"field": "col", "type": "nominal", "scale": {"domain": ["up", "dn"], "range": ["#000000", "#FF0000"]}, "legend": null},
       "fill": {"field": "body", "type": "nominal", "scale": {"domain": ["up", "dn", "hollow"], "range": ["#000000", "#FF0000", "#FFFFFF"]}, "legend": null}
      }}
    ]},
   {"data": {"name": "levels"},
    "transform": [{"filter": "datum.kind == 'major'"}],
    "mark": {"type": "rule", "color": "#0000FF", "strokeWidth": 3},
    "encoding": {
     "x2": {"datum": {"year": 2005, "month": 8, "date": 22, "hours": 17, "utc": true}},
     "y": {"field": "p", "type": "quantitative", "axis": null}
    }},
   {"data": {"name": "levels"},
    "transform": [{"filter": "datum.kind == 'minor'"}],
    "mark": {"type": "rule", "color": "#0000FF", "strokeWidth": 1},
    "encoding": {
     "x2": {"datum": {"year": 2005, "month": 8, "date": 22, "hours": 17, "utc": true}},
     "y": {"field": "p", "type": "quantitative", "axis": null}
    }},
   {"data": {"name": "ma"},
    "mark": {"type": "line", "color": "#FF0000", "strokeWidth": 1, "interpolate": "monotone"},
    "encoding": {"y": {"field": "p", "type": "quantitative", "axis": null}}},
   {"data": {"name": "tags"},
    "mark": {"type": "point", "filled": true, "fill": "#FFFF00", "stroke": "#0000FF", "strokeWidth": 1, "opacity": 1,
     "shape": {"expr": "'M-1,-' + (13/(length(datum.t)*4.8+8)) + 'H1V' + (13/(length(datum.t)*4.8+8)) + 'H-1Z'"},
     "size": {"expr": "pow(length(datum.t)*4.8+8, 2)"}},
    "encoding": {"y": {"field": "p", "type": "quantitative", "axis": null}}},
   {"data": {"name": "tags"},
    "mark": {"type": "text", "font": "Liberation Sans", "fontSize": 12, "color": "#0000FF", "align": "center", "baseline": "middle", "dy": 0.5},
    "encoding": {"y": {"field": "p", "type": "quantitative", "axis": null}, "text": {"field": "t"}}}
  ]
 },
 {
  "width": 752, "height": 103,
  "resolve": {"axis": {"x": "independent", "y": "independent"}},
  "layer": [
   {"data": {"name": "wk"},
    "mark": {"type": "rule", "color": "#0000FF", "strokeWidth": 1},
    "encoding": {
     "x": {"field": "d", "type": "temporal", "scale": {"type": "utc", "domain": [{"year": 2002, "month": 9, "date": 9, "hours": 17, "utc": true}, {"year": 2005, "month": 8, "date": 22, "hours": 17, "utc": true}], "nice": false},
      "axis": {"orient": "bottom", "title": null, "tickSize": 15, "labelAlign": "left", "labelBaseline": "top", "labelPadding": -14, "labelOffset": 2, "labelOverlap": false, "labelBound": false, "labelFlush": false, "domain": true,
       "labelExpr": "utcmonth(datum.value) == 0 ? utcFormat(datum.value, '%Y') : (utcmonth(datum.value) == 1 ? '' : substring(utcFormat(datum.value, '%b'), 0, 1))",
       "values": [
        {"year":2002,"month":9,"date":13,"utc":true},{"year":2002,"month":10,"date":4,"utc":true},{"year":2002,"month":11,"date":1,"utc":true},{"year":2002,"month":12,"date":6,"utc":true},
        {"year":2003,"month":1,"date":3,"utc":true},{"year":2003,"month":2,"date":7,"utc":true},{"year":2003,"month":3,"date":7,"utc":true},{"year":2003,"month":4,"date":4,"utc":true},
        {"year":2003,"month":5,"date":2,"utc":true},{"year":2003,"month":6,"date":6,"utc":true},{"year":2003,"month":7,"date":4,"utc":true},{"year":2003,"month":8,"date":1,"utc":true},
        {"year":2003,"month":9,"date":5,"utc":true},{"year":2003,"month":10,"date":3,"utc":true},{"year":2003,"month":11,"date":7,"utc":true},{"year":2003,"month":12,"date":5,"utc":true},
        {"year":2004,"month":1,"date":2,"utc":true},{"year":2004,"month":2,"date":6,"utc":true},{"year":2004,"month":3,"date":5,"utc":true},{"year":2004,"month":4,"date":2,"utc":true},
        {"year":2004,"month":5,"date":7,"utc":true},{"year":2004,"month":6,"date":4,"utc":true},{"year":2004,"month":7,"date":2,"utc":true},{"year":2004,"month":8,"date":6,"utc":true},
        {"year":2004,"month":9,"date":3,"utc":true},{"year":2004,"month":10,"date":1,"utc":true},{"year":2004,"month":11,"date":5,"utc":true},{"year":2004,"month":12,"date":3,"utc":true},
        {"year":2005,"month":1,"date":7,"utc":true},{"year":2005,"month":2,"date":4,"utc":true},{"year":2005,"month":3,"date":4,"utc":true},{"year":2005,"month":4,"date":1,"utc":true},
        {"year":2005,"month":5,"date":6,"utc":true},{"year":2005,"month":6,"date":3,"utc":true},{"year":2005,"month":7,"date":1,"utc":true},{"year":2005,"month":8,"date":5,"utc":true}
       ]}},
     "y": {"field": "v", "type": "quantitative", "scale": {"domain": [-2300, 13350], "nice": false, "zero": false},
      "axis": {"orient": "right", "values": [1666.667, 3333.333, 5000, 6666.667, 8333.333, 10000, 11666.667, 13333.333],
       "labelExpr": "(datum.value == 5000 || datum.value == 10000) ? format(datum.value, 'd') : ''",
       "labelFontSize": {"condition": {"test": "datum.value != 5000 && datum.value != 10000", "value": 0}, "value": 12},
       "tickSize": 8, "tickDash": {"condition": {"test": "datum.value != 5000 && datum.value != 10000", "value": [4, 20]}, "value": []},
       "labelAlign": "right", "labelPadding": 33, "labelOverlap": false, "labelBound": false, "labelFlush": false, "title": null}},
     "y2": {"datum": 0}
    }},
   {"data": {"name": "regimes"},
    "mark": {"type": "text", "font": "DejaVu Sans Mono", "fontSize": 13, "align": "left", "baseline": "middle", "ellipsis": "", "clip": true,
     "limit": {"expr": "(time(toDate(datum.e)) - time(toDate(datum.d))) / 93139200000 * 752"}},
    "encoding": {
     "x": {"field": "d", "type": "temporal", "axis": null},
     "y": {"datum": -1150, "axis": null},
     "text": {"condition": {"test": "datum.r == 'Bearish'", "value": "╲╲╲╲╲╲╲╲╲╲╲╲╲╲╲╲╲╲╲╲╲╲╲╲╲╲╲╲╲╲╲╲╲╲╲╲╲╲╲╲╲╲╲╲╲"}, "value": "╱╱╱╱╱╱╱╱╱╱╱╱╱╱╱╱╱╱╱╱╱╱╱╱╱╱╱╱╱╱╱╱╱╱╱╱╱╱╱╱╱╱╱╱╱"},
     "color": {"field": "r", "type": "nominal", "scale": {"domain": ["Bearish", "Bullish"], "range": ["#FF0000", "#00CC00"]}, "legend": null}
    }},
   {"data": {"name": "regimes"},
    "mark": {"type": "rule", "color": "#000000", "strokeWidth": 1},
    "encoding": {
     "x": {"field": "d", "type": "temporal", "axis": null},
     "y": {"datum": 0, "axis": null},
     "y2": {"datum": -2300}
    }},
   {"data": {"values": [{"v": 9200}, {"v": 3000}]},
    "mark": {"type": "rule", "color": "#0000FF", "strokeWidth": 1},
    "encoding": {"y": {"field": "v", "type": "quantitative", "axis": null}}},
   {"data": {"name": "regimes"},
    "transform": [{"filter": "time(toDate(datum.d)) > time(toDate('2003-01-01'))"}],
    "mark": {"type": "rule", "strokeWidth": 1},
    "encoding": {
     "x": {"field": "d", "type": "temporal", "axis": null},
     "y": {"datum": 11850, "axis": null},
     "y2": {"datum": 0},
     "color": {"field": "r", "type": "nominal", "scale": {"domain": ["Bearish", "Bullish"], "range": ["#FF0000", "#00CC00"]}, "legend": null}
    }},
   {"data": {"name": "osc"},
    "transform": [{"filter": "datum.s == 'black'"}],
    "mark": {"type": "line", "color": "#000000", "strokeWidth": 1, "strokeDash": [3, 2], "interpolate": "monotone"},
    "encoding": {
     "x": {"field": "d", "type": "temporal", "axis": null},
     "y": {"field": "v", "type": "quantitative", "axis": null}
    }},
   {"data": {"name": "osc"},
    "transform": [{"filter": "datum.s == 'red'"}],
    "mark": {"type": "line", "color": "#FF0000", "strokeWidth": 1.2, "interpolate": "monotone"},
    "encoding": {
     "x": {"field": "d", "type": "temporal", "axis": null},
     "y": {"field": "v", "type": "quantitative", "axis": null}
    }},
   {"data": {"name": "regimes"},
    "transform": [
     {"filter": "time(toDate(datum.e)) - time(toDate(datum.d)) > 2592000000"},
     {"calculate": "(time(toDate(datum.d)) + time(toDate(datum.e))) / 2", "as": "mid"}
    ],
    "mark": {"type": "text", "font": "Liberation Sans", "fontSize": 11.5, "color": "#000000", "align": "center", "baseline": "middle"},
    "encoding": {
     "x": {"field": "mid", "type": "temporal", "axis": null},
     "y": {"datum": -1150, "axis": null},
     "text": {"field": "r"}
    }}
  ]
 }
]
}
